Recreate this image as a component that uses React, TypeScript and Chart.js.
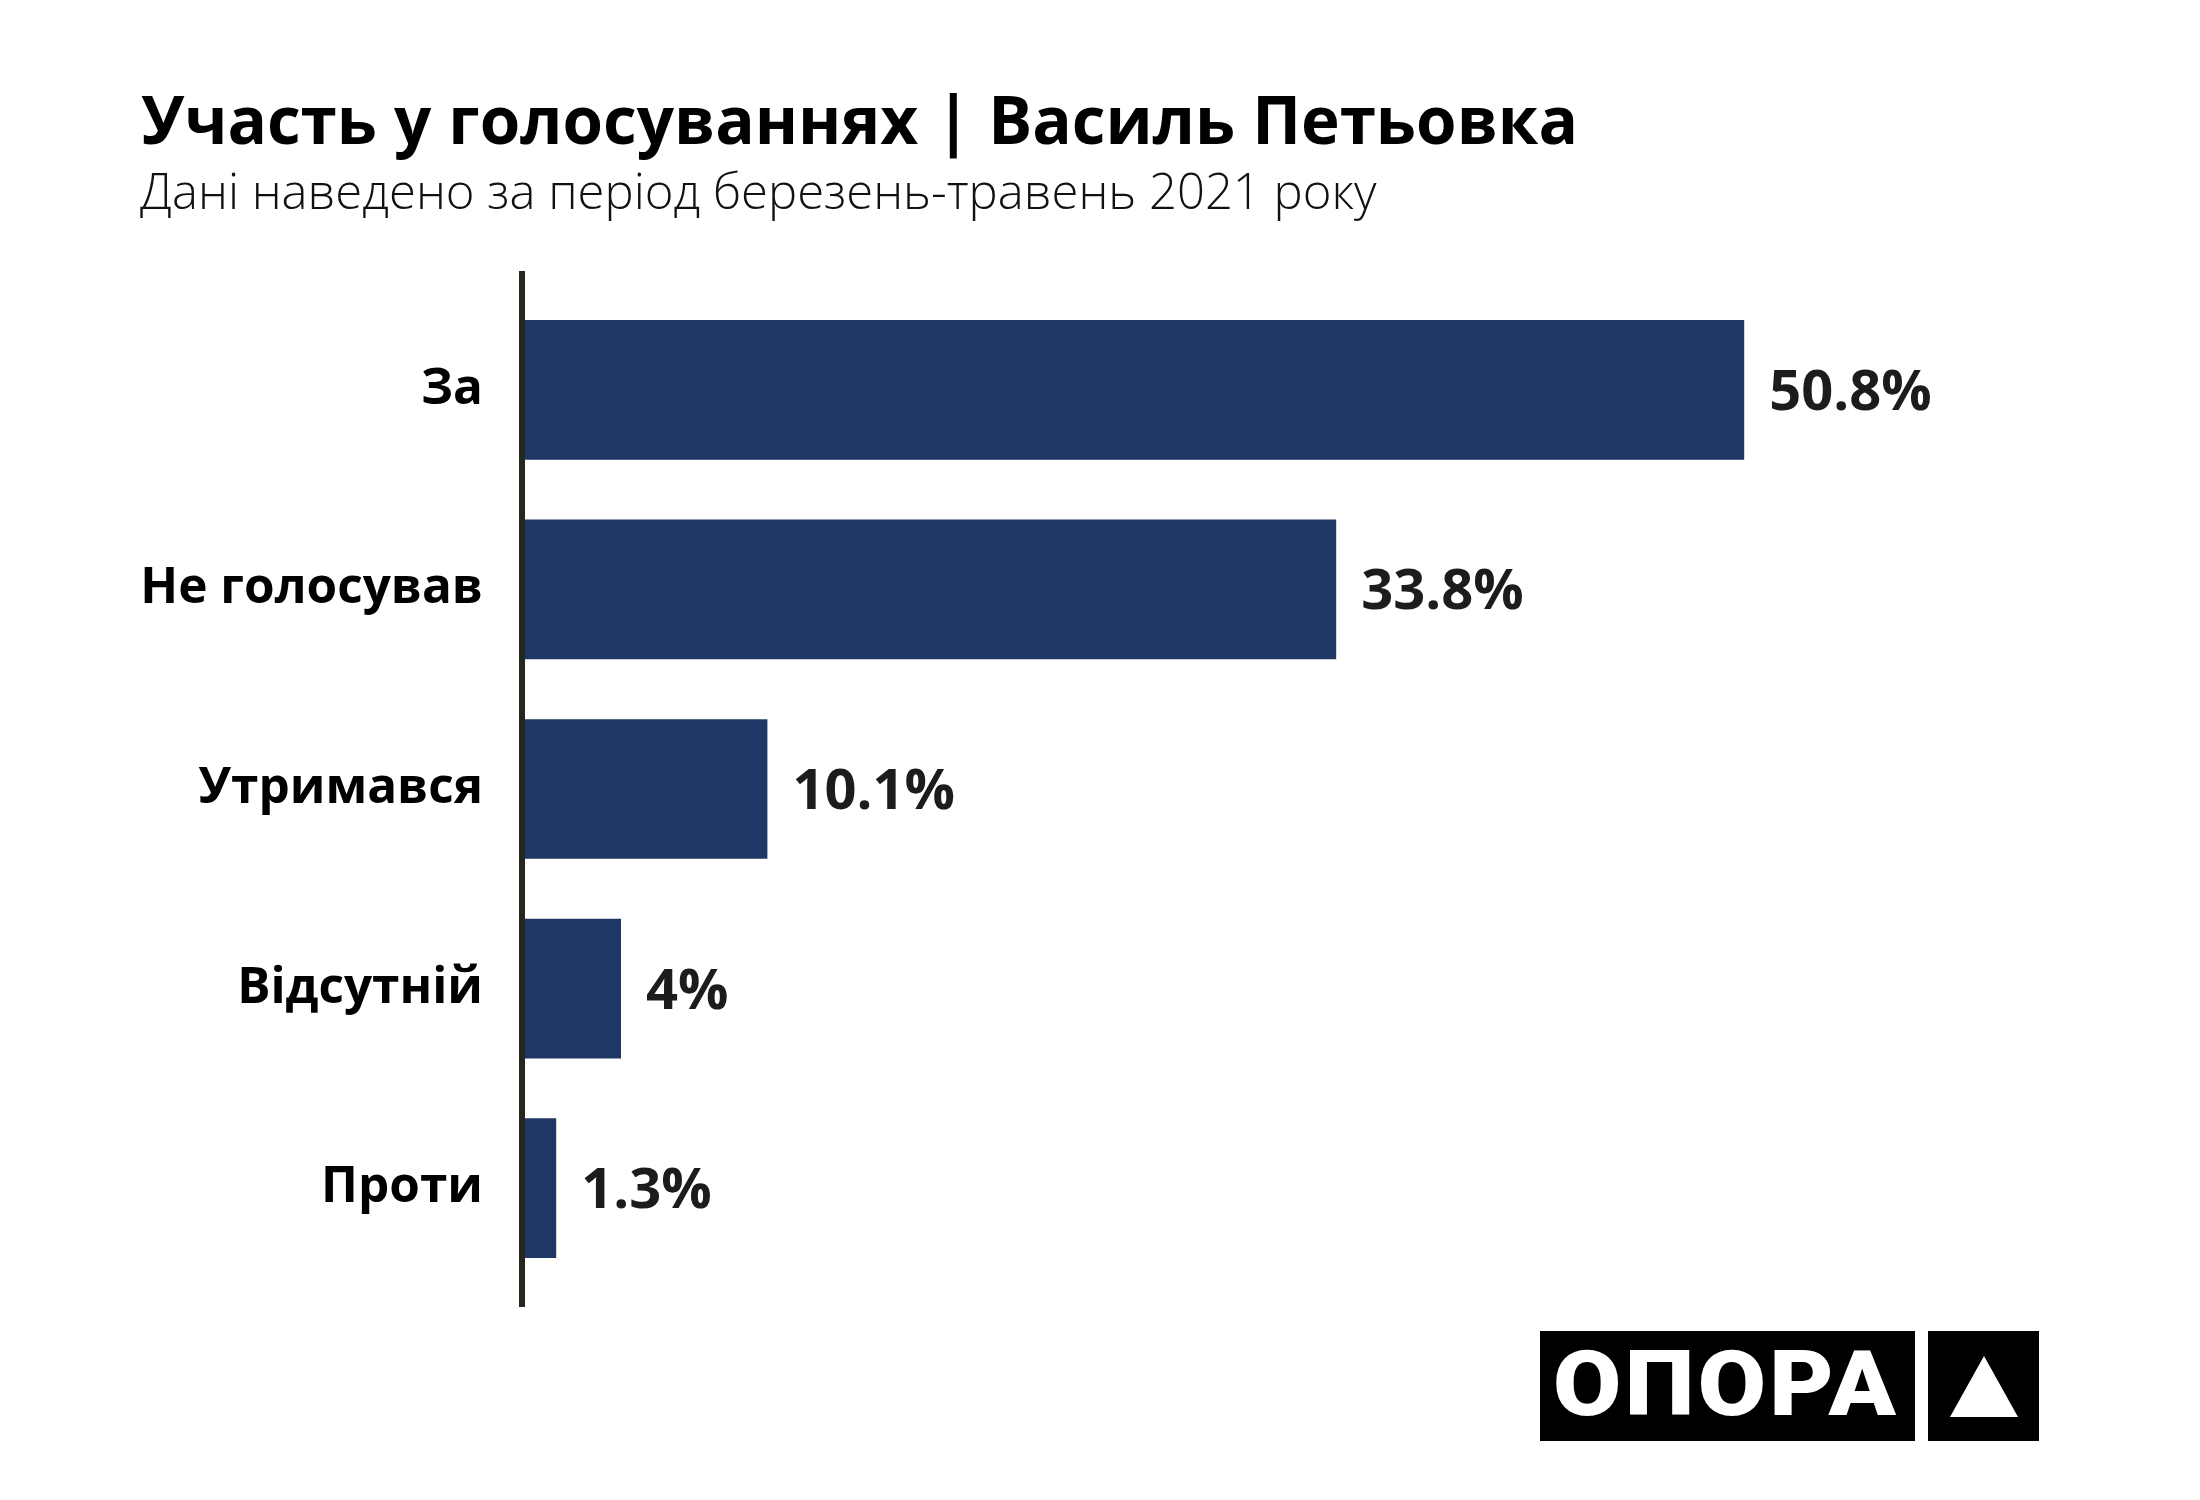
import React, { useEffect, useRef } from "react";
import { Chart, registerables } from "chart.js";

Chart.register(...registerables);

const categories = ["За", "Не голосував", "Утримався", "Відсутній", "Проти"];
const values = [50.8, 33.8, 10.1, 4, 1.3];
const titleText = "Участь у голосуваннях | Василь Петьовка";
const subtitleText = "Дані наведено за період березень-травень 2021 року";
const logoText = "ОПОРА";

const BAR_COLOR = "#1f3765";
const AXIS_COLOR = "#25271f";

const axisLinePlugin = {
  id: "axisLine",
  afterDatasetsDraw(chart: any) {
    const { ctx, chartArea } = chart;
    ctx.save();
    ctx.fillStyle = AXIS_COLOR;
    ctx.fillRect(chartArea.left - 6, chartArea.top - 19, 6, chartArea.bottom - chartArea.top + 38);
    ctx.restore();
  },
};

const valueLabelPlugin = {
  id: "valueLabels",
  afterDatasetsDraw(chart: any) {
    const { ctx } = chart;
    const meta = chart.getDatasetMeta(0);
    const size = 56;
    ctx.save();
    ctx.font = `700 ${size}px "Open Sans"`;
    ctx.fillStyle = "#1c1c1c";
    ctx.textAlign = "left";
    ctx.textBaseline = "alphabetic";
    meta.data.forEach((bar: any, i: number) => {
      const v = chart.data.datasets[0].data[i];
      ctx.fillText(`${v}%`, bar.x + 25, bar.y + (size * 0.714) / 2);
    });
    ctx.restore();
  },
};

export default function App() {
  const ref = useRef<HTMLCanvasElement | null>(null);
  useEffect(() => {
    if (!ref.current) return;
    const chart = new Chart(ref.current, {
      type: "bar",
      data: {
        labels: categories,
        datasets: [
          {
            data: values,
            backgroundColor: BAR_COLOR,
            barPercentage: 0.7,
            categoryPercentage: 1.0,
            borderWidth: 0,
          },
        ],
      },
      options: {
        indexAxis: "y",
        responsive: false,
        animation: false,
        devicePixelRatio: 1,
        layout: { padding: { left: 0, top: 290, right: 235, bottom: 212 } },
        plugins: {
          legend: { display: false },
          tooltip: { enabled: false },
          title: { display: false },
        },
        scales: {
          x: { display: false, min: 0, max: 60 },
          y: {
            grid: { display: false },
            border: { display: false },
            ticks: {
              padding: 34,
              color: "#000",
              font: { family: "Open Sans", weight: "bold", size: 49.5 },
            },
            afterFit(scale: any) {
              scale.width = 525;
            },
          },
        },
      },
      plugins: [axisLinePlugin, valueLabelPlugin],
    });
    return () => chart.destroy();
  }, []);

  return (
    <div style={{ position: "absolute", left: 0, top: 0, width: 2200, height: 1500, background: "#fff", overflow: "hidden" }}>
      <div
        style={{
          position: "absolute",
          left: 141,
          top: 144 - 0.888 * 65.5,
          fontFamily: "Open Sans",
          fontWeight: 700,
          fontSize: 65.5,
          lineHeight: 1,
          whiteSpace: "nowrap",
          color: "#000",
        }}
      >
        {titleText}
      </div>
      <div
        style={{
          position: "absolute",
          left: 140,
          top: 210 - 0.888 * 49,
          fontFamily: "Open Sans",
          fontWeight: 300,
          fontSize: 49,
          lineHeight: 1,
          whiteSpace: "nowrap",
          color: "#111",
        }}
      >
        {subtitleText}
      </div>
      <canvas ref={ref} width={2200} height={1500} style={{ position: "absolute", left: 0, top: 0, width: 2200, height: 1500 }} />
      <div style={{ position: "absolute", left: 1540, top: 1331, width: 375, height: 110, background: "#000" }} />
      <div
        style={{
          position: "absolute",
          left: 1553,
          top: 1416 - 0.8417 * 90,
          fontFamily: "Roboto",
          fontWeight: 900,
          fontSize: 90,
          lineHeight: 1,
          letterSpacing: 3,
          color: "#fff",
          whiteSpace: "nowrap",
          transform: "scaleX(1.1)",
          transformOrigin: "left center",
        }}
      >
        {logoText}
      </div>
      <div style={{ position: "absolute", left: 1928, top: 1331, width: 111, height: 110, background: "#000" }} />
      <div
        style={{
          position: "absolute",
          left: 1950,
          top: 1356,
          width: 0,
          height: 0,
          borderLeft: "34px solid transparent",
          borderRight: "34px solid transparent",
          borderBottom: "61px solid #fff",
        }}
      />
    </div>
  );
}
